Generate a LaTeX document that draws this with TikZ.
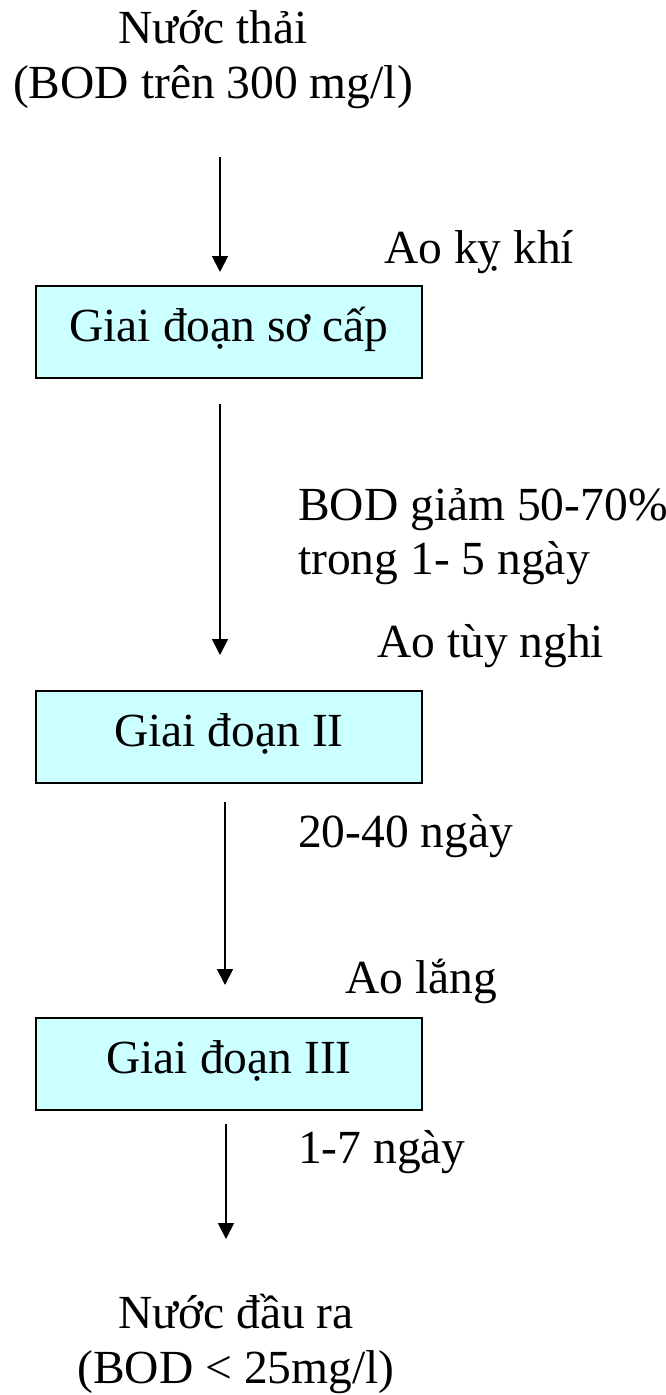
\documentclass[tikz,border=0pt]{standalone}
\usepackage{fontspec}
\setmainfont{Liberation Serif}
\usetikzlibrary{arrows.meta}
\definecolor{boxfill}{HTML}{CCFFFF}
\tikzset{
  lbl/.style={inner sep=0pt, font=\fontsize{47.5}{55}\selectfont},
  stagebox/.style={draw=black, line width=1.5pt, fill=boxfill, minimum width=386pt, minimum height=92pt, inner sep=0pt, text height=34pt, text depth=15pt, font=\fontsize{47.5}{55}\selectfont},
  flow/.style={line width=1.8pt, -{Triangle[length=16pt,width=16pt]}}
}
\begin{document}
\begin{tikzpicture}[x=1pt,y=-1pt]
\useasboundingbox (0,0) rectangle (665,1395);
% top texts
\node[lbl, anchor=base] (in1) at (213,43) {Nước thải};
\node[lbl, anchor=base] (in2) at (213,98) {(BOD trên 300 mg/l)};
% boxes
\node[stagebox] (b1) at (229,332) {Giai đoạn sơ cấp};
\node[stagebox] (b2) at (229,737) {Giai đoạn II};
\node[stagebox] (b3) at (229,1064) {Giai đoạn III};
% side labels
\node[lbl, anchor=base west] (l1) at (384,263) {Ao kỵ khí};
\node[lbl, anchor=base west] (l2a) at (298,520) {BOD giảm 50-70\%};
\node[lbl, anchor=base west] (l2b) at (298,574) {trong 1- 5 ngày};
\node[lbl, anchor=base west] (l3) at (377,657) {Ao tùy nghi};
\node[lbl, anchor=base west] (l4) at (298,847) {20-40 ngày};
\node[lbl, anchor=base west] (l5) at (345,993) {Ao lắng};
\node[lbl, anchor=base west] (l6) at (298,1163) {1-7 ngày};
% bottom texts
\node[lbl, anchor=base] (out1) at (236,1328) {Nước đầu ra};
\node[lbl, anchor=base] (out2) at (236,1383) {(BOD < 25mg/l)};
% arrow endpoints
\coordinate (a1s) at (220,157);
\coordinate (a1e) at (220,272);
\coordinate (a2s) at (220,404);
\coordinate (a2e) at (220,655);
\coordinate (a3s) at (225,802);
\coordinate (a3e) at (225,985);
\coordinate (a4s) at (226,1124);
\coordinate (a4e) at (226,1239);
\draw[flow] (a1s) -- (a1e);
\draw[flow] (a2s) -- (a2e);
\draw[flow] (a3s) -- (a3e);
\draw[flow] (a4s) -- (a4e);
\end{tikzpicture}
\end{document}
